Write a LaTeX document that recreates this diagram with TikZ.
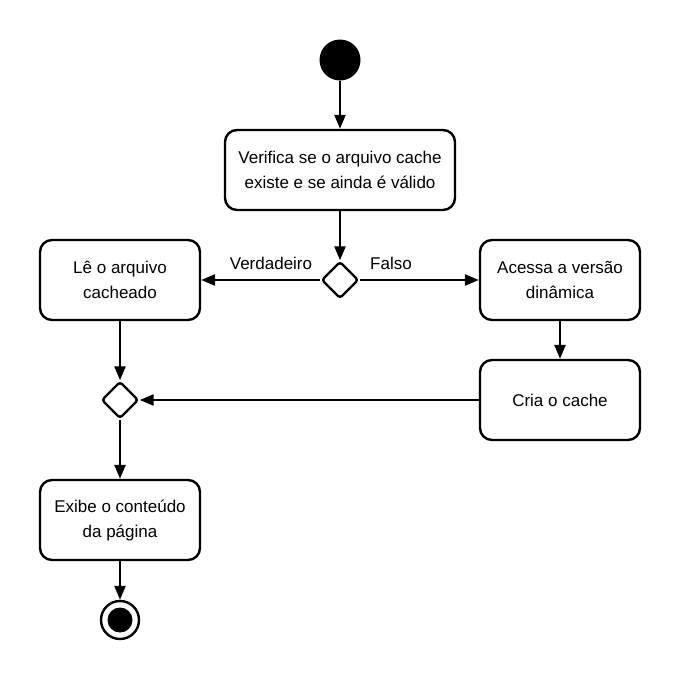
\documentclass[tikz,border=0pt]{standalone}
\usepackage{fontspec}
\setmainfont{Liberation Sans}
\usetikzlibrary{shapes.geometric}
\usetikzlibrary{arrows.meta}

\tikzset{
    acao/.style={draw, line width=2.4pt, rounded corners=12pt, minimum width=160pt, minimum height=80pt, align=center, font=\fontsize{17}{25}\selectfont},
    decisao/.style={draw, line width=2.4pt, diamond, rounded corners=3pt, minimum size=37pt, inner sep=0pt},
    fluxo/.style={line width=2.4pt, -{Triangle[length=14pt,width=11pt]}},
    rotulo/.style={font=\fontsize{17}{20}\selectfont}
}

\begin{document}
\begin{tikzpicture}[x=1pt, y=-1pt]
        \useasboundingbox (0,0) rectangle (680,680);

        % start and end
        \node[circle, fill=black, minimum size=41pt, inner sep=0pt] (inicio) at (340,60) {};
        \node[circle, draw, line width=2.4pt, minimum size=38pt, inner sep=0pt] (fim) at (120,620) {};
        \node[circle, fill=black, minimum size=25pt, inner sep=0pt] (fimdentro) at (120,620) {};

        % actions
        \node[acao, minimum width=230pt] (verifica) at (340,170) {Verifica se o arquivo cache\\existe e se ainda é válido};
        \node[acao] (le) at (120,280) {Lê o arquivo\\cacheado};
        \node[acao] (acessa) at (560,280) {Acessa a versão\\dinâmica};
        \node[acao] (cria) at (560,400) {Cria o cache};
        \node[acao] (exibe) at (120,520) {Exibe o conteúdo\\da página};

        % decisions
        \node[decisao] (valido) at (340,280) {};
        \node[decisao] (junta) at (120,400) {};

        % flows
        \draw[fluxo] (inicio) -- (verifica);
        \draw[fluxo] (verifica) -- (valido);
        \draw[fluxo] (valido) -- (le);
        \draw[fluxo] (valido) -- (acessa);
        \draw[fluxo] (acessa) -- (cria);
        \draw[fluxo] (cria) -- (junta);
        \draw[fluxo] (le) -- (junta);
        \draw[fluxo] (junta) -- (exibe);
        \draw[fluxo] (exibe) -- (fim);

        % labels
        \node[rotulo] (verdadeiro) at (271,263) {Verdadeiro};
        \node[rotulo] (falso) at (391,263) {Falso};
\end{tikzpicture}
\end{document}
